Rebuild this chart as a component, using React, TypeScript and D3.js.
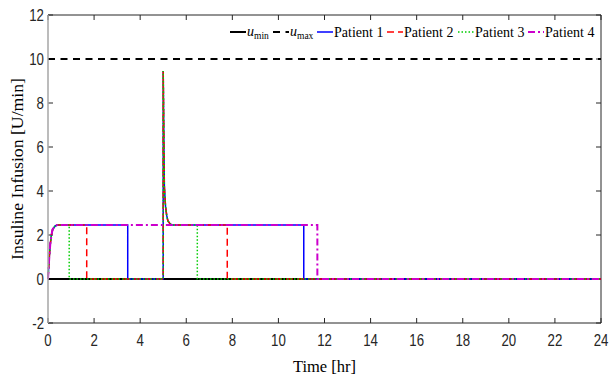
import React from "react";
import * as d3 from "d3";

const W = 609;
const H = 377;
const M = { left: 48, right: 8, top: 15, bottom: 54 };

const xTicks = [0, 2, 4, 6, 8, 10, 12, 14, 16, 18, 20, 22, 24];
const yTicks = [-2, 0, 2, 4, 6, 8, 10, 12];

const uMinT = [0, 24];
const uMinV = [0, 0];
const uMaxT = [0, 24];
const uMaxV = [10, 10];

// Patient 1 (blue solid)
const p1T = [0, 0.05, 0.1, 0.15, 0.2, 0.3, 0.4, 3.46, 3.46, 5.0, 5.0, 5.05, 5.1, 5.15, 5.2, 5.3, 5.4, 11.1, 11.1, 24];
const p1V = [0, 0.9, 1.6, 2.0, 2.25, 2.4, 2.45, 2.45, 0, 0, 9.45, 4.2, 3.3, 2.9, 2.65, 2.5, 2.45, 2.45, 0, 0];
// Patient 2 (red dashed)
const p2T = [0, 0.05, 0.1, 0.15, 0.2, 0.3, 0.4, 1.68, 1.68, 5.0, 5.0, 5.05, 5.1, 5.15, 5.2, 5.3, 5.4, 7.78, 7.78, 24];
const p2V = [0, 0.9, 1.6, 2.0, 2.25, 2.4, 2.45, 2.45, 0, 0, 9.45, 4.2, 3.3, 2.9, 2.65, 2.5, 2.45, 2.45, 0, 0];
// Patient 3 (green dotted)
const p3T = [0, 0.05, 0.1, 0.15, 0.2, 0.3, 0.4, 0.92, 0.92, 5.0, 5.0, 5.05, 5.1, 5.15, 5.2, 5.3, 5.4, 6.48, 6.48, 24];
const p3V = [0, 0.9, 1.6, 2.0, 2.25, 2.4, 2.45, 2.45, 0, 0, 9.45, 4.2, 3.3, 2.9, 2.65, 2.5, 2.45, 2.45, 0, 0];
// Patient 4 (magenta dash-dot)
const p4T = [0, 0.05, 0.1, 0.15, 0.2, 0.3, 0.4, 11.69, 11.69, 24];
const p4V = [0, 0.9, 1.6, 2.0, 2.25, 2.4, 2.45, 2.45, 0, 0];

const series = [
  { key: "umin", t: uMinT, v: uMinV, color: "#000000", dash: "", width: 2 },
  { key: "umax", t: uMaxT, v: uMaxV, color: "#000000", dash: "7 5.5", width: 2 },
  { key: "p1", t: p1T, v: p1V, color: "#0000ff", dash: "", width: 1.5 },
  { key: "p2", t: p2T, v: p2V, color: "#ff0000", dash: "7 4", width: 1.5 },
  { key: "p3", t: p3T, v: p3V, color: "#00cc00", dash: "1.5 2", width: 1.5 },
  { key: "p4", t: p4T, v: p4V, color: "#cc00cc", dash: "7 3 2 3", width: 2 },
];

const legendItems = [
  { key: "umin", label: "u", sub: "min", x: 230 },
  { key: "umax", label: "u", sub: "max", x: 273 },
  { key: "p1", label: "Patient 1", sub: "", x: 317 },
  { key: "p2", label: "Patient 2", sub: "", x: 387 },
  { key: "p3", label: "Patient 3", sub: "", x: 458 },
  { key: "p4", label: "Patient 4", sub: "", x: 528 },
];

export default function App() {
  const iw = W - M.left - M.right;
  const ih = H - M.top - M.bottom;
  const x = d3.scaleLinear().domain([0, 24]).range([M.left, M.left + iw]);
  const y = d3.scaleLinear().domain([-2, 12]).range([M.top + ih, M.top]);
  const line = d3
    .line<[number, number]>()
    .x((d) => x(d[0]))
    .y((d) => y(d[1]));

  const tickFont = "'Liberation Sans', Arial, sans-serif";
  const serif = "'Liberation Serif', 'Times New Roman', serif";
  const axisColor = "#262626";
  const x0 = M.left;
  const x1 = M.left + iw;
  const y0 = M.top + ih;
  const y1 = M.top;

  return (
    <svg width={W} height={H} style={{ position: "absolute", left: 0, top: 0, background: "#fff" }}>
      <rect x={0} y={0} width={W} height={H} fill="#fff" />
      {/* box */}
      <line x1={x0} x2={x1} y1={y1} y2={y1} stroke={axisColor} strokeWidth={1} />
      <line x1={x1} x2={x1} y1={y1} y2={y0} stroke={axisColor} strokeWidth={1} />
      <line x1={x0} x2={x1} y1={y0} y2={y0} stroke={axisColor} strokeWidth={1} />
      {/* ticks */}
      {xTicks.map((t) => (
        <g key={"xt" + t}>
          <line x1={x(t)} x2={x(t)} y1={y0} y2={y0 - 5} stroke={axisColor} />
          <line x1={x(t)} x2={x(t)} y1={y1} y2={y1 + 5} stroke={axisColor} />
          <text
            transform={`translate(${x(t)},${y0 + 23}) scale(0.78,1)`}
            textAnchor="middle"
            fontFamily={tickFont}
            fontSize={17}
            fill={axisColor}
          >
            {t}
          </text>
        </g>
      ))}
      {yTicks.map((t) => (
        <g key={"yt" + t}>
          <line x1={x0} x2={x0 + 5} y1={y(t)} y2={y(t)} stroke={axisColor} />
          <line x1={x1} x2={x1 - 5} y1={y(t)} y2={y(t)} stroke={axisColor} />
          <text
            transform={`translate(${x0 - 4},${y(t) + 6}) scale(0.78,1)`}
            textAnchor="end"
            fontFamily={tickFont}
            fontSize={17}
            fill={axisColor}
          >
            {t}
          </text>
        </g>
      ))}
      {/* series */}
      {series.map((s) => (
        <path
          key={s.key}
          d={line(s.t.map((t, i) => [t, s.v[i]] as [number, number])) || ""}
          fill="none"
          stroke={s.color}
          strokeWidth={s.width}
          strokeDasharray={s.dash || undefined}
        />
      ))}
      {/* left axis (gray) */}
      <line x1={x0} x2={x0} y1={y1} y2={y0} stroke="#a6a6a6" strokeWidth={1.5} />
      {/* legend */}
      {legendItems.map((it) => {
        const s = series.find((q) => q.key === it.key)!;
        const ly = 32;
        return (
          <g key={"lg" + it.key}>
            <line
              x1={it.x}
              x2={it.x + 16}
              y1={ly}
              y2={ly}
              stroke={s.color}
              strokeWidth={s.width}
              strokeDasharray={s.dash || undefined}
            />
            {it.sub ? (
              <text x={it.x + 17} y={ly + 4} fontFamily={serif} fontSize={14} fill="#000">
                <tspan fontStyle="italic">{it.label}</tspan>
                <tspan fontSize={9.5} dy={3}>{it.sub}</tspan>
              </text>
            ) : (
              <text x={it.x + 17} y={ly + 5} fontFamily={serif} fontSize={14} fill="#000">
                {it.label}
              </text>
            )}
          </g>
        );
      })}
      {/* axis labels */}
      <text
        x={(x0 + x1) / 2}
        y={372}
        textAnchor="middle"
        fontFamily={serif}
        fontSize={16.5}
        fill="#000"
      >
        Time [hr]
      </text>
      <text
        transform={`translate(23,${(y0 + y1) / 2}) rotate(-90)`}
        textAnchor="middle"
        fontFamily={serif}
        fontSize={17}
        fill="#000"
        textLength={182}
        lengthAdjust="spacingAndGlyphs"
      >
        Insuline Infusion [U/min]
      </text>
    </svg>
  );
}
